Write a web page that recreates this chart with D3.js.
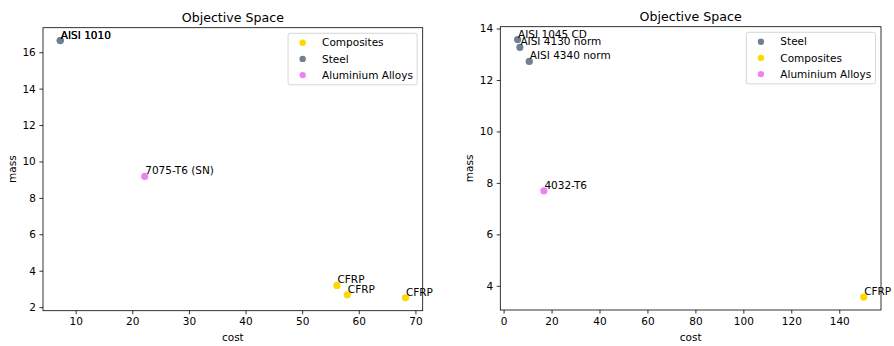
<!DOCTYPE html>
<html>
<head>
<meta charset="utf-8">
<script src="https://d3js.org/d3.v7.min.js"></script>
<style>
  body { margin: 0; background: #fff; }
  svg { display: block; font-family: "DejaVu Sans", sans-serif; }
</style>
</head>
<body>
<svg id="chart" width="894" height="346"></svg>
<script>
// ---- data ----
// left panel
const leftCompCost = [56.15, 57.98, 68.24];
const leftCompMass = [3.19, 2.68, 2.51];
const leftCompLabels = ['CFRP', 'CFRP', 'CFRP'];
const leftSteelCost = [7.28, 7.28];
const leftSteelMass = [16.64, 16.64];
const leftSteelLabels = ['AISI 1010', 'AISI 1010'];
const leftAluCost = [22.2];
const leftAluMass = [9.18];
const leftAluLabels = ['7075-T6 (SN)'];
const leftXTicks = [10, 20, 30, 40, 50, 60, 70];
const leftYTicks = [2, 4, 6, 8, 10, 12, 14, 16];

// right panel
const rightSteelCost = [5.84, 6.8, 10.7];
const rightSteelMass = [13.57, 13.27, 12.72];
const rightSteelLabels = ['AISI 1045 CD', 'AISI 4130 norm', 'AISI 4340 norm'];
const rightCompCost = [150.2];
const rightCompMass = [3.56];
const rightCompLabels = ['CFRP'];
const rightAluCost = [16.8];
const rightAluMass = [7.69];
const rightAluLabels = ['4032-T6'];
const rightXTicks = [0, 20, 40, 60, 80, 100, 120, 140];
const rightYTicks = [4, 6, 8, 10, 12, 14];

const colors = { 'Composites': '#ffd700', 'Steel': '#708090', 'Aluminium Alloys': '#ee82ee' };

const FS = 10.5;      // tick / label / annotation size
const TITLE_FS = 12.6;

const svg = d3.select('#chart');

function series(name, cost, mass, labels) {
    return { name, points: cost.map((c, i) => ({ cost: c, mass: mass[i], label: labels[i] })) };
}

// matplotlib-style 5% autoscale margin
function padded(values) {
    const [lo, hi] = d3.extent(values);
    const m = (hi - lo) * 0.05;
    return [lo - m, hi + m];
}

function drawPanel(box, seriesList, xTicks, yTicks) {
    const all = seriesList.flatMap(s => s.points);
    const x = d3.scaleLinear().domain(padded(all.map(d => d.cost))).range([box.left, box.right]);
    const y = d3.scaleLinear().domain(padded(all.map(d => d.mass))).range([box.bottom, box.top]);

    const g = svg.append('g');

    // points
    seriesList.forEach(s => {
        g.append('g')
            .selectAll('circle')
            .data(s.points)
            .join('circle')
            .attr('cx', d => x(d.cost))
            .attr('cy', d => y(d.mass))
            .attr('r', 3.6)
            .attr('fill', colors[s.name]);
    });

    // annotations
    seriesList.forEach(s => {
        g.append('g')
            .selectAll('text')
            .data(s.points)
            .join('text')
            .attr('x', d => x(d.cost) + 0.5)
            .attr('y', d => y(d.mass) - 2)
            .attr('font-size', FS)
            .attr('fill', '#000')
            .text(d => d.label);
    });

    // axes
    const xAxis = g.append('g')
        .attr('transform', `translate(0,${box.bottom})`)
        .call(d3.axisBottom(x).tickValues(xTicks).tickSize(3.6).tickPadding(3.6).tickFormat(d3.format('d')));
    const yAxis = g.append('g')
        .attr('transform', `translate(${box.left},0)`)
        .call(d3.axisLeft(y).tickValues(yTicks).tickSize(3.6).tickPadding(3.6).tickFormat(d3.format('d')));
    [xAxis, yAxis].forEach(a => {
        a.select('.domain').remove();
        a.selectAll('text').attr('font-size', FS).attr('font-family', '"DejaVu Sans", sans-serif').attr('fill', '#000');
        a.selectAll('line').attr('stroke', '#000').attr('stroke-width', 0.8);
    });

    // frame
    g.append('rect')
        .attr('x', box.left).attr('y', box.top)
        .attr('width', box.right - box.left).attr('height', box.bottom - box.top)
        .attr('fill', 'none').attr('stroke', '#000').attr('stroke-width', 0.8);

    // title + labels
    const cx = (box.left + box.right) / 2;
    g.append('text').attr('x', cx).attr('y', box.top - 6)
        .attr('text-anchor', 'middle').attr('font-size', TITLE_FS).text('Objective Space');
    g.append('text').attr('x', cx).attr('y', 341)
        .attr('text-anchor', 'middle').attr('font-size', FS).text('cost');
    g.append('text')
        .attr('transform', `translate(${box.left - 27.5},${(box.top + box.bottom) / 2}) rotate(-90)`)
        .attr('text-anchor', 'middle').attr('font-size', FS).text('mass');

    // legend
    const lg = g.append('g');
    const frame = lg.append('rect');
    const rows = lg.selectAll('g.row')
        .data(seriesList)
        .join('g')
        .attr('class', 'row');
    rows.append('circle').attr('r', 3.2).attr('fill', d => colors[d.name]);
    const labels = rows.append('text')
        .attr('x', 19.4).attr('dy', '0.35em').attr('font-size', FS).text(d => d.name);
    const textW = d3.max(labels.nodes(), n => n.getComputedTextLength());
    const w = 19.4 + textW + 4.3 + 14.6;
    const left = box.right - 5.5 - w;
    rows.attr('transform', (d, i) => `translate(${left + 14.6},${box.top + 15 + i * 16.2})`);
    frame.attr('x', left).attr('y', box.top + 5.6)
        .attr('width', w).attr('height', 51.5)
        .attr('rx', 2)
        .attr('fill', '#fff').attr('fill-opacity', 0.8)
        .attr('stroke', '#cccccc').attr('stroke-width', 0.8);
}

drawPanel(
    { left: 43, right: 422.7, top: 27.7, bottom: 310.7 },
    [
        series('Composites', leftCompCost, leftCompMass, leftCompLabels),
        series('Steel', leftSteelCost, leftSteelMass, leftSteelLabels),
        series('Aluminium Alloys', leftAluCost, leftAluMass, leftAluLabels)
    ],
    leftXTicks, leftYTicks
);

drawPanel(
    { left: 500.3, right: 881, top: 26.7, bottom: 310 },
    [
        series('Steel', rightSteelCost, rightSteelMass, rightSteelLabels),
        series('Composites', rightCompCost, rightCompMass, rightCompLabels),
        series('Aluminium Alloys', rightAluCost, rightAluMass, rightAluLabels)
    ],
    rightXTicks, rightYTicks
);
</script>
</body>
</html>
